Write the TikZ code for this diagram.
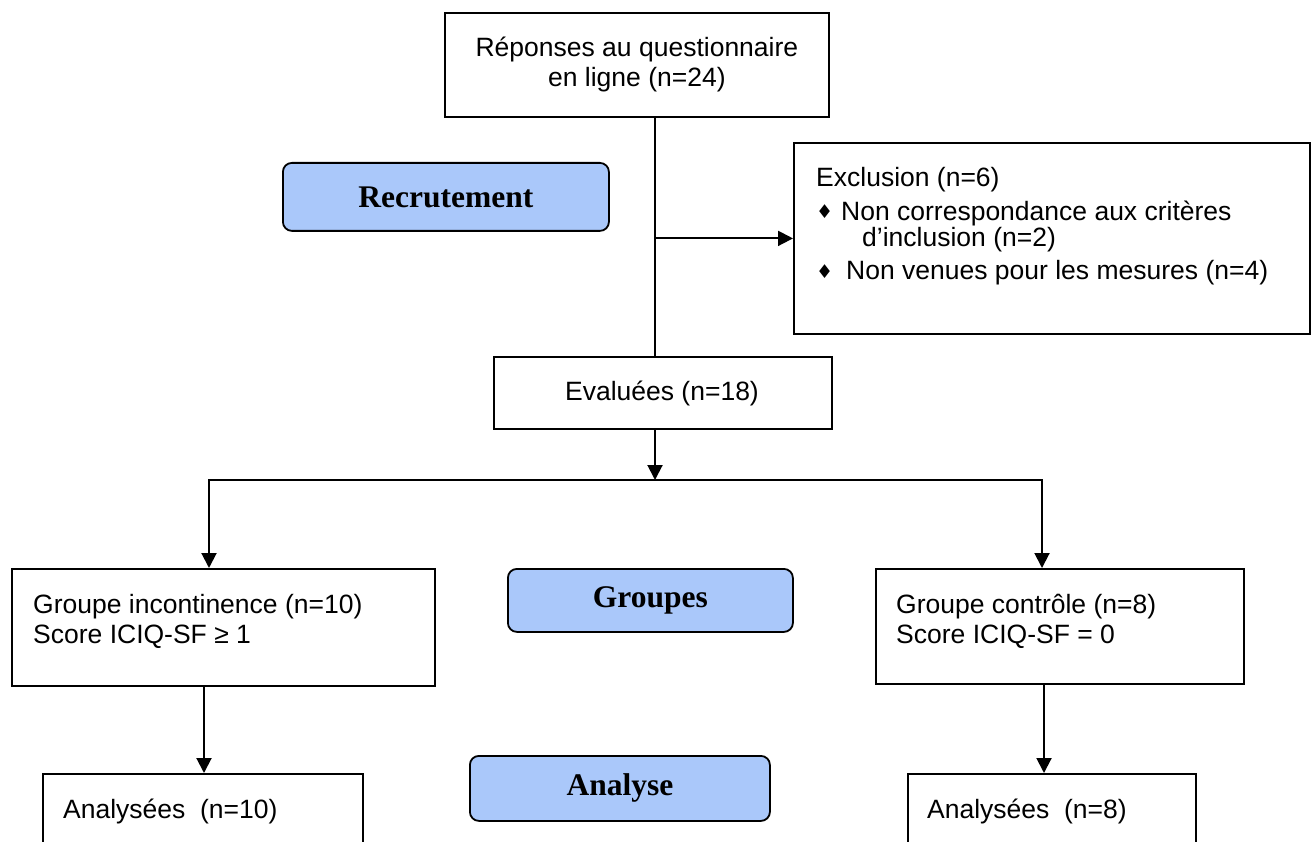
\documentclass[tikz,border=0pt]{standalone}
\usepackage{fontspec}
\setmainfont{Liberation Sans}
\newfontfamily\serifbold{Liberation Serif}
\newfontfamily\symfont{DejaVu Sans}
\usetikzlibrary{arrows.meta}
\definecolor{labelblue}{RGB}{170,200,250}
\tikzset{
  box/.style={draw, line width=1.8pt, anchor=north west, inner sep=0pt, font=\fontsize{26.5}{30}\selectfont},
  lbl/.style={draw, line width=1.8pt, rounded corners=9pt, fill=labelblue, anchor=north west, inner sep=0pt,
    font=\serifbold\bfseries\fontsize{31.5}{34}\selectfont},
  txt/.style={anchor=west, inner sep=0pt, font=\fontsize{26.5}{30}\selectfont},
  bul/.style={anchor=west, inner sep=0pt, font=\symfont\fontsize{19}{19}\selectfont},
  line/.style={line width=2pt},
  arr/.style={line width=2pt, -{Triangle[length=15pt,width=15pt]}},
}
\begin{document}
\begin{tikzpicture}[x=1pt,y=-1pt]
\clip (0,0) rectangle (1316,842);
\fill[white] (0,0) rectangle (1316,842);

% boxes
\node[box, minimum width=384pt, minimum height=104pt, align=center] (top) at (444,12)
  {Réponses au questionnaire\\en ligne (n=24)};
\node[box, minimum width=516pt, minimum height=191pt] (excl) at (793,142) {};
\node[box, minimum width=338pt, minimum height=72pt] (eval) at (493,356) {};
\node[box, minimum width=423pt, minimum height=117pt] (gl) at (11,568) {};
\node[box, minimum width=368pt, minimum height=115pt] (gr) at (875,568) {};
\node[box, minimum width=320pt, minimum height=100pt] (al) at (42,773) {};
\node[box, minimum width=288pt, minimum height=100pt] (ar) at (907,773) {};

% labels
\node[lbl, minimum width=326pt, minimum height=68pt] (rec) at (282,162) {Recrutement};
\node[lbl, minimum width=285pt, minimum height=63pt] (grp) at (507,568) {Groupes};
\node[lbl, minimum width=300pt, minimum height=65pt] (ana) at (469,755) {Analyse};

% texts
\node[txt, anchor=center] (ev1) at (662,393) {Evaluées (n=18)};
\node[txt] (ex1) at (816,180) {Exclusion (n=6)};
\node[bul] (b1) at (816,212) {♦};
\node[txt] (ex2) at (841,213) {Non correspondance aux critères};
\node[txt] (ex3) at (862,240) {d’inclusion (n=2)};
\node[bul] (b2) at (816,272) {♦};
\node[txt] (ex4) at (846,273) {Non venues pour les mesures (n=4)};

\node[txt] (gl1) at (33,607) {Groupe incontinence (n=10)};
\node[txt] (gl2) at (33,637) {Score ICIQ-SF ≥ 1};
\node[txt] (gr1) at (896,607) {Groupe contrôle (n=8)};
\node[txt] (gr2) at (896,637) {Score ICIQ-SF = 0};
\node[txt] (al1) at (63,811) {Analysées\ \ (n=10)};
\node[txt] (ar1) at (927,811) {Analysées\ \ (n=8)};

% connectors
\coordinate (spine) at (655,0);
\coordinate (junc) at (655,480);
\coordinate (jl) at (209,480);
\coordinate (jr) at (1042,480);
\coordinate (dl) at (204,0);
\coordinate (dr) at (1044,0);
\draw[line] (top.south -| spine) -- (eval.north -| spine);
\draw[arr] (spine |- excl.west) -- (excl.west);
\draw[arr] (eval.south -| spine) -- (junc);
\draw[arr] (junc) -- (jl) -- (jl |- gl.north);
\draw[arr] (junc) -- (jr) -- (jr |- gr.north);
\draw[arr] (gl.south -| dl) -- (al.north -| dl);
\draw[arr] (gr.south -| dr) -- (ar.north -| dr);
\end{tikzpicture}
\end{document}
